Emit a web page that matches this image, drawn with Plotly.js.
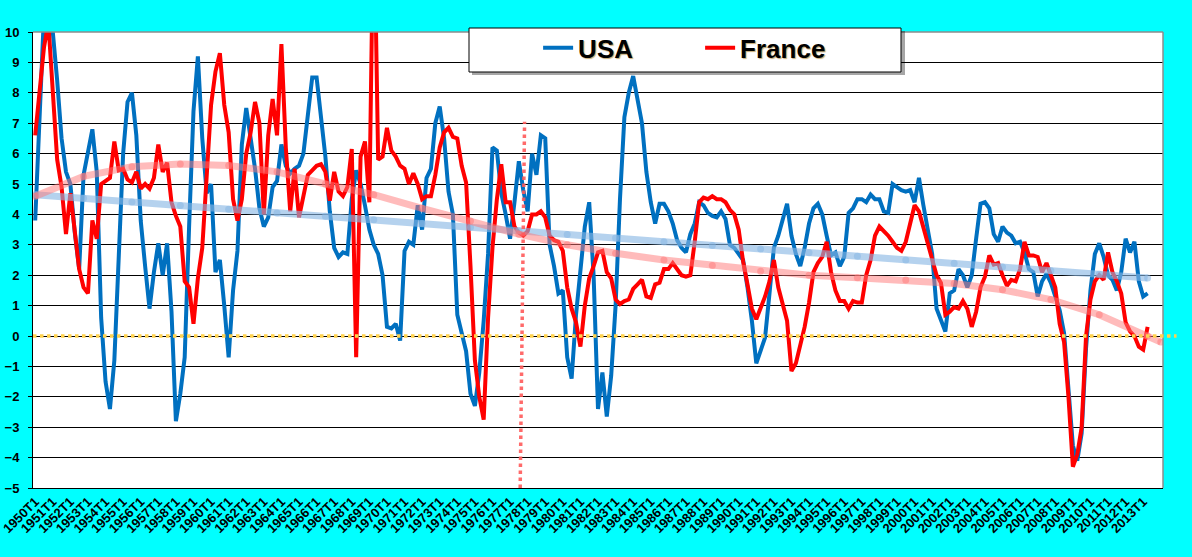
<!DOCTYPE html>
<html>
<head>
<meta charset="utf-8">
<script src="https://cdn.plot.ly/plotly-3.0.1.min.js"></script>
<style>
  html, body { margin: 0; padding: 0; background: #00FFFF; }
  #chart { width: 1192px; height: 557px; }
</style>
</head>
<body>
<div id="chart"></div>
<script>
// Quarterly category labels 1950T1 .. 2014T1
const quarters = [];
for (let y = 1950; y <= 2014; y++) {
  for (let q = 1; q <= 4; q++) quarters.push(y + 'T' + q);
}
quarters.length = 257;

// Year tick labels shown on the axis
const yearTicks = quarters.filter(q => q.endsWith('T1') && q <= '2013T1');

// USA: year-on-year GDP growth (%), 1950T1 .. 2013T2
const usa = [
  3.8, 7.2, 10.6, 11.2, 10.0, 8.4, 6.5, 5.4, 5.0, 3.4,
  2.2, 5.3, 6.1, 6.8, 5.4, 0.6, -1.5, -2.4, -0.8, 2.5,
  6.0, 7.7, 8.0, 6.6, 3.8, 2.3, 0.9, 2.1, 3.05, 2.0,
  3.05, 0.8, -2.8, -1.9, -0.7, 3.6, 7.4, 9.2, 6.5, 4.7,
  5.0, 2.1, 2.5, 1.0, -0.7, 1.5, 2.8, 6.3, 7.5, 6.5,
  5.5, 4.2, 3.6, 3.9, 4.9, 5.1, 6.3, 5.6, 5.35, 5.5,
  5.6, 6.0, 7.2, 8.5, 8.5, 7.2, 5.9, 4.1, 2.9, 2.6,
  2.75, 2.7, 4.5, 5.45, 5.0, 4.3, 3.5, 3.0, 2.7, 2.0,
  0.3, 0.25, 0.4, -0.15, 2.8, 3.1, 3.0, 4.3, 3.5, 5.2,
  5.5, 7.0, 7.55, 6.5, 4.75, 4.0, 0.7, 0.1, -0.5, -1.9,
  -2.3, -1.2, 0.5, 2.7, 6.2, 6.1, 4.7, 4.0, 3.2, 4.4,
  5.75, 4.8, 4.1, 6.0, 5.3, 6.6, 6.5, 3.0, 2.3, 1.4,
  1.5, -0.7, -1.4, 0.7, 2.3, 3.6, 4.4, 2.0, -2.4, -1.2,
  -2.65, -1.3, 1.0, 4.5, 7.2, 8.0, 8.55, 7.85, 7.0, 5.4,
  4.4, 3.7, 4.35, 4.35, 4.1, 3.7, 3.15, 2.9, 2.75, 3.35,
  3.7, 4.4, 4.3, 4.05, 3.95, 3.9, 4.1, 3.85, 3.0, 2.9,
  2.7, 2.5, 1.6, 0.5, -0.9, -0.5, -0.05, 1.4, 2.9, 3.3,
  3.8, 4.35, 3.3, 2.7, 2.3, 2.9, 3.7, 4.2, 4.35, 4.0,
  3.3, 2.65, 2.75, 2.3, 2.6, 4.05, 4.2, 4.5, 4.5, 4.4,
  4.65, 4.5, 4.5, 4.1, 4.05, 5.0, 4.9, 4.8, 4.75, 4.8,
  4.4, 5.2, 4.3, 3.5, 2.7, 0.9, 0.5, 0.15, 1.4, 1.5,
  2.2, 2.0, 1.6, 2.0, 3.2, 4.35, 4.4, 4.2, 3.35, 3.1,
  3.6, 3.4, 3.3, 3.05, 3.1, 2.75, 2.2, 2.1, 1.3, 1.8,
  2.05, 1.75, 1.3, 0.85, 0.1, -1.8, -3.6, -4.1, -3.2, -0.4,
  1.5, 2.7, 3.05, 2.6, 2.0, 1.85, 1.5, 2.1, 3.2, 2.75,
  3.1, 1.8, 1.3, 1.4
];

// France: year-on-year GDP growth (%), 1950T1 .. 2013T2
const france = [
  6.6, 8.1, 9.5, 10.3, 8.0, 5.8, 4.9, 3.35, 4.7, 3.3,
  2.2, 1.6, 1.4, 3.8, 3.2, 5.0, 5.1, 5.2, 6.4, 5.45,
  5.5, 5.15, 5.05, 5.4, 4.85, 5.0, 4.85, 5.2, 6.3, 5.4,
  5.7, 4.4, 3.95, 3.6, 1.8, 1.6, 0.4, 1.9, 2.9, 5.2,
  7.6, 8.7, 9.3, 7.6, 6.7, 4.5, 3.8, 4.5, 6.0, 6.7,
  7.7, 7.0, 4.0, 6.6, 7.8, 6.6, 9.6, 6.2, 4.1, 5.5,
  3.9, 4.6, 5.3, 5.45, 5.6, 5.65, 5.4, 4.45, 5.4, 4.75,
  4.6, 4.9, 6.15, -0.7, 5.9, 6.4, 4.4, 14.5, 5.8, 5.9,
  6.85, 6.1, 5.9, 5.6, 5.5, 5.0, 5.35, 5.0, 4.5, 4.6,
  4.6, 5.3, 6.2, 6.7, 6.85, 6.55, 6.5, 5.6, 5.05, 2.3,
  -0.8, -2.0, -2.75, 0.6, 2.9, 4.5, 5.65, 4.4, 4.4, 3.6,
  3.4, 3.3, 3.45, 4.0, 4.0, 4.1, 3.9, 3.3, 3.15, 3.1,
  2.8, 1.6, 0.9, 0.45, -0.35, 1.0, 1.9, 2.3, 2.75, 2.8,
  2.1, 1.9, 1.2, 1.05, 1.15, 1.2, 1.55, 1.7, 1.85, 1.3,
  1.25, 1.7, 1.75, 2.2, 2.2, 2.4, 2.2, 2.0, 1.95, 2.0,
  3.1, 4.4, 4.55, 4.5, 4.6, 4.5, 4.5, 4.4, 4.15, 4.0,
  3.5, 2.45, 1.7, 0.9, 0.55, 0.95, 1.3, 1.8, 2.5, 1.6,
  1.1, 0.5, -1.15, -0.9, -0.3, 0.3, 1.1, 2.1, 2.4, 2.6,
  3.1, 2.1, 1.5, 1.15, 1.15, 0.9, 1.15, 1.1, 1.1, 2.0,
  2.5, 3.3, 3.6, 3.45, 3.3, 3.1, 2.9, 2.8, 3.1, 3.7,
  4.3, 4.1, 3.6, 3.0, 2.5, 2.0, 1.75, 0.7, 0.8, 0.95,
  0.9, 1.15, 0.9, 0.3, 0.8, 1.6, 1.95, 2.65, 2.35, 2.4,
  2.0, 1.65, 1.85, 1.8, 2.2, 3.1, 2.65, 2.65, 2.6, 2.1,
  2.4, 2.0, 1.6, 0.4, -0.2, -2.0, -4.3, -3.9, -3.0, 0.0,
  1.2, 1.8, 2.0, 1.85, 2.75, 2.1, 1.8, 1.4, 0.45, 0.15,
  0.0, -0.35, -0.45, 0.3
];

// Trend lines (at sparse quarters)
const trendQuarters = [
  '1950T1', '1952T4', '1955T3', '1958T2', '1961T1', '1963T4', '1966T3', '1969T2',
  '1972T1', '1974T4', '1977T3', '1980T2', '1983T1', '1985T4', '1988T3', '1991T2',
  '1994T1', '1996T4', '1999T3', '2002T2', '2005T1', '2007T4', '2010T3', '2013T2', '2014T1'
];
const usaTrend = [
  4.65, 4.53, 4.41, 4.29, 4.17, 4.05, 3.94, 3.82,
  3.70, 3.58, 3.46, 3.34, 3.22, 3.10, 2.98, 2.86,
  2.74, 2.62, 2.50, 2.39, 2.27, 2.15, 2.03, 1.91
];
const franceTrend = [
  4.60, 5.25, 5.57, 5.66, 5.61, 5.40, 5.00, 4.65,
  4.20, 3.78, 3.35, 3.00, 2.72, 2.50, 2.32, 2.13,
  2.00, 1.92, 1.84, 1.73, 1.52, 1.20, 0.70, 0.00, -0.20
];

const FONT = 'Liberation Sans, Arial, sans-serif';

const traces = [
  {
    x: quarters.slice(0, usa.length), y: usa, name: 'USA',
    type: 'scatter', mode: 'lines',
    line: { color: '#0070C0', width: 4 }, hoverinfo: 'x+y'
  },
  {
    x: quarters.slice(0, france.length), y: france, name: 'France',
    type: 'scatter', mode: 'lines',
    line: { color: '#FF0000', width: 4 }, hoverinfo: 'x+y'
  },
  {
    x: trendQuarters.slice(0, usaTrend.length), y: usaTrend, name: 'Tendance USA',
    type: 'scatter', mode: 'lines+markers', showlegend: false,
    line: { color: 'rgba(135,182,228,0.62)', width: 7 },
    marker: { color: 'rgba(135,182,228,0.55)', size: 7 }, hoverinfo: 'skip'
  },
  {
    x: trendQuarters.slice(0, franceTrend.length), y: franceTrend, name: 'Tendance France',
    type: 'scatter', mode: 'lines+markers', showlegend: false,
    line: { color: 'rgba(255,120,120,0.5)', width: 7 },
    marker: { color: 'rgba(255,120,120,0.5)', size: 7 }, hoverinfo: 'skip'
  }
];

const layout = {
  width: 1192, height: 557,
  paper_bgcolor: '#00FFFF',
  plot_bgcolor: '#FFFFFF',
  margin: { l: 33, r: 29, t: 32, b: 69 },
  font: { family: FONT, color: '#000000' },
  showlegend: true,
  legend: {
    orientation: 'h',
    x: 0.447, xanchor: 'left',
    y: 0.965, yanchor: 'middle',
    bgcolor: 'rgba(0,0,0,0)', borderwidth: 0,
    font: { family: FONT, size: 26, weight: 'bold', color: '#000000',
            shadow: '1px 1px 1px rgba(150,100,0,0.55)' },
    entrywidth: 117, entrywidthmode: 'pixels',
    itemclick: false, itemdoubleclick: false
  },
  xaxis: {
    type: 'category',
    categoryorder: 'array', categoryarray: quarters,
    range: [-0.5, 256.5],
    tickmode: 'array', tickvals: yearTicks, ticktext: yearTicks,
    tickangle: -45,
    tickfont: { family: FONT, size: 13, weight: 'bold', color: '#000000' },
    ticks: '', showgrid: false, zeroline: false,
    showline: true, linecolor: '#000000', linewidth: 1,
    fixedrange: true
  },
  xaxis2: {
    overlaying: 'x', anchor: 'y', side: 'bottom', type: 'linear',
    range: [-0.5, 256.5], tick0: -0.5, dtick: 1,
    ticks: 'outside', ticklen: 4, tickcolor: '#000000', tickwidth: 1,
    showticklabels: false, showgrid: false, zeroline: false, showline: false,
    fixedrange: true
  },
  yaxis: {
    range: [-5, 10], tick0: 0, dtick: 1,
    showgrid: true, gridcolor: '#000000', gridwidth: 1,
    zeroline: false,
    showline: true, linecolor: '#000000', linewidth: 1,
    ticks: 'outside', ticklen: 4, tickcolor: '#000000',
    ticklabelstandoff: 6,
    tickfont: { family: FONT, size: 13, weight: 'bold', color: '#000000' },
    fixedrange: true
  },
  shapes: [
    // plot area border (top and right)
    { type: 'line', xref: 'paper', yref: 'paper', x0: 0, x1: 1, y0: 1, y1: 1,
      line: { color: '#8C8C8C', width: 1.5 }, layer: 'above' },
    { type: 'line', xref: 'paper', yref: 'paper', x0: 1, x1: 1, y0: 0, y1: 1,
      line: { color: '#8C8C8C', width: 1.5 }, layer: 'above' },
    // zero line (dotted yellow)
    { type: 'line', xref: 'paper', yref: 'y', x0: 0, x1: 1.012, y0: 0, y1: 0,
      line: { color: '#FFD24D', width: 3.5, dash: 'dot' }, layer: 'above' },
    // vertical dotted red marker near 1978T1
    { type: 'line', xref: 'x', yref: 'y', x0: 110.3, x1: 111.3, y0: -5, y1: 7.05,
      line: { color: 'rgba(255,90,90,0.9)', width: 3.5, dash: 'dot' }, layer: 'above' },
    // legend shadow and box
    { type: 'rect', xref: 'paper', yref: 'paper',
      x0: (472 - 33) / 1130, x1: (905 - 33) / 1130,
      y0: (488 - 75) / 456, y1: (488 - 31) / 456,
      fillcolor: 'rgba(0,0,0,0.35)', line: { width: 0 }, layer: 'above' },
    { type: 'rect', xref: 'paper', yref: 'paper',
      x0: (469 - 33) / 1130, x1: (901 - 33) / 1130,
      y0: (488 - 72) / 456, y1: (488 - 28) / 456,
      fillcolor: '#FFFFFF', line: { color: '#000000', width: 1 }, layer: 'above' }
  ]
};

Plotly.newPlot('chart', traces, layout, { displayModeBar: false, staticPlot: true });
</script>
</body>
</html>
